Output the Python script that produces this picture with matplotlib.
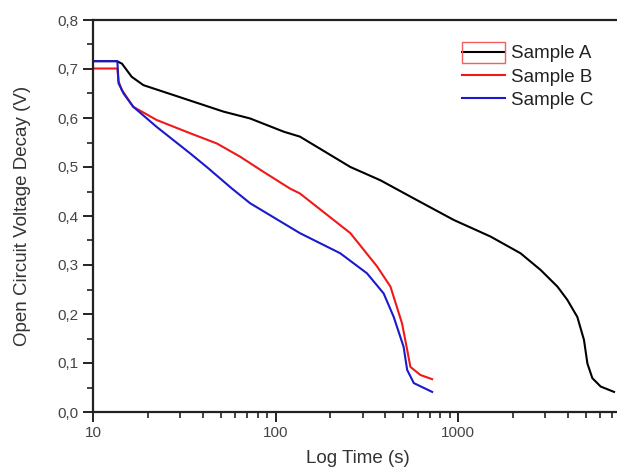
import matplotlib
matplotlib.use("Agg")
import matplotlib.pyplot as plt
from matplotlib.ticker import FixedLocator, FuncFormatter, LogLocator, NullFormatter
from matplotlib.patches import Rectangle

plt.rcParams['font.family'] = ['Liberation Sans', 'DejaVu Sans']

# Data
t_a = [10, 13.5, 14.4, 16.3, 18.9, 27.5, 51.9, 72.6, 111, 136, 257, 375, 571, 946,
       1507, 2197, 2830, 3500, 3965, 4500, 4895, 5110, 5440, 6040, 7150]
v_a = [0.716, 0.716, 0.711, 0.684, 0.667, 0.647, 0.613, 0.599, 0.572, 0.562, 0.50, 0.473,
       0.436, 0.392, 0.358, 0.324, 0.290, 0.256, 0.229, 0.194, 0.147, 0.099, 0.069, 0.052, 0.041]

t_b = [10, 13.6, 13.8, 14.4, 16.6, 22.3, 34, 47.7, 64, 86, 120, 136, 257, 360, 426,
       493, 526, 548, 622, 721]
v_b = [0.701, 0.701, 0.675, 0.657, 0.623, 0.596, 0.569, 0.548, 0.521, 0.49, 0.456, 0.446,
       0.365, 0.297, 0.256, 0.181, 0.127, 0.092, 0.0755, 0.067]

t_c = [10, 13.6, 13.8, 14.7, 16.6, 22.3, 34, 42, 57.7, 72.6, 136, 226, 317, 391, 444,
       503, 526, 572, 721]
v_c = [0.716, 0.716, 0.671, 0.650, 0.623, 0.582, 0.528, 0.50, 0.456, 0.426, 0.365, 0.324,
       0.283, 0.242, 0.194, 0.133, 0.086, 0.059, 0.041]

labels = ["Sample A", "Sample B", "Sample C"]
y_ticks = [0.0, 0.1, 0.2, 0.3, 0.4, 0.5, 0.6, 0.7, 0.8]

W, H = 617, 471
fig = plt.figure(figsize=(W / 100, H / 100), dpi=100)
ax = fig.add_axes([93 / W, 1 - 412 / H, (W - 93) / W + 0.01, (412 - 20) / H])

ax.plot(t_a, v_a, color='black', lw=1.5, label=labels[0])
ax.plot(t_b, v_b, color='#f01818', lw=1.5, label=labels[1])
ax.plot(t_c, v_c, color='#1a1acc', lw=1.5, label=labels[2])

ax.set_xscale('log')
ax.set_xlim(10, 10 ** (1 + (W - 93) / 182.3 + 0.03))
ax.set_ylim(0, 0.8)

ax.xaxis.set_major_locator(FixedLocator([10, 100, 1000]))
ax.xaxis.set_major_formatter(FuncFormatter(lambda v, p: f"{int(round(v))}"))
ax.xaxis.set_minor_locator(LogLocator(base=10, subs=range(2, 10)))
ax.xaxis.set_minor_formatter(NullFormatter())

ax.yaxis.set_major_locator(FixedLocator(y_ticks))
ax.yaxis.set_major_formatter(FuncFormatter(lambda v, p: f"{v:.1f}".replace('.', ',')))
ax.yaxis.set_minor_locator(FixedLocator([0.05 + 0.1 * i for i in range(8)]))

for s in ['left', 'bottom', 'top']:
    ax.spines[s].set_linewidth(1.6)
    ax.spines[s].set_color('#222222')
ax.spines['right'].set_visible(False)

ax.tick_params(axis='both', which='major', direction='out', length=7, width=1.4,
               labelsize=11, labelcolor='#444444', color='#222222')
ax.tick_params(axis='both', which='minor', direction='out', length=4, width=1.2,
               color='#222222')
ax.tick_params(axis='x', pad=3)

ax.set_xlabel("Log Time (s)", fontsize=13.5, color='#333333', labelpad=7)
ax.set_ylabel("Open Circuit Voltage Decay (V)", fontsize=13.5, color='#333333', labelpad=19)

leg = ax.legend(loc='upper left', bbox_to_anchor=(449 / W, 1 - 32 / H),
                bbox_transform=fig.transFigure, frameon=False, fontsize=13.5,
                handlelength=2.3, handletextpad=0.3, labelspacing=0.33, borderpad=0.2)
for txt in leg.get_texts():
    txt.set_color('#222222')

fig.patches.append(Rectangle((461.5 / W, 1 - 62.7 / H), 43.5 / W, 21 / H,
                             transform=fig.transFigure, fill=False,
                             edgecolor='#f06060', lw=1.0))

fig.savefig("out.png", dpi=100)
